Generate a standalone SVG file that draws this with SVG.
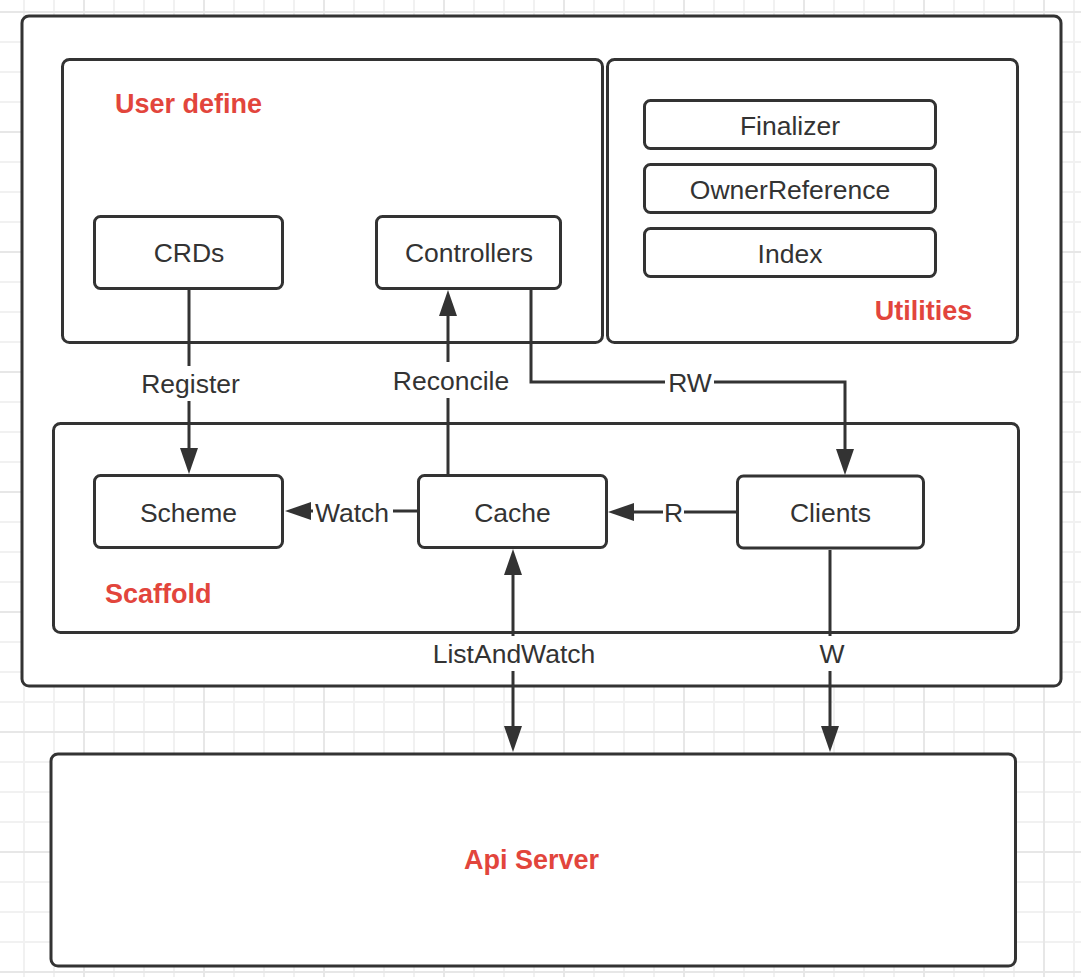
<svg xmlns="http://www.w3.org/2000/svg" width="1081" height="977" viewBox="0 0 1081 977">
  <defs>
    <pattern id="grid" patternUnits="userSpaceOnUse" x="-37" y="11" width="120" height="120">
      <rect x="0" y="0" width="120" height="120" fill="#ffffff"/>
      <rect x="30" y="0" width="2" height="120" fill="#f1f1f1"/>
      <rect x="60" y="0" width="2" height="120" fill="#f1f1f1"/>
      <rect x="90" y="0" width="2" height="120" fill="#f1f1f1"/>
      <rect x="0" y="30" width="120" height="2" fill="#f1f1f1"/>
      <rect x="0" y="60" width="120" height="2" fill="#f1f1f1"/>
      <rect x="0" y="90" width="120" height="2" fill="#f1f1f1"/>
      <rect x="0" y="0" width="2" height="120" fill="#e7e7e7"/>
      <rect x="0" y="0" width="120" height="2" fill="#e7e7e7"/>
    </pattern>
    <marker id="arrow" markerUnits="userSpaceOnUse" markerWidth="26" markerHeight="18" refX="0" refY="9" orient="auto-start-reverse" overflow="visible">
      <path d="M0,0 L26,9 L0,18 Z" fill="#333333"/>
    </marker>
  </defs>
  <style>
    .frame { fill: #ffffff; stroke: #333333; stroke-width: 3; }
    .node { fill: #ffffff; stroke: #333333; stroke-width: 3; }
    .txt { font-family: "Liberation Sans", Arial, sans-serif; font-size: 26.5px; fill: #333333; text-anchor: middle; }
    .title { font-family: "Liberation Sans", Arial, sans-serif; font-size: 27px; font-weight: bold; fill: #e2453c; }
    .conn { fill: none; stroke: #333333; stroke-width: 3; }
    .lblbg { fill: #ffffff; }
  </style>

  <rect x="0" y="0" width="1081" height="977" fill="url(#grid)"/>

  <g id="outer">
    <rect class="frame" x="22" y="16" width="1039" height="670" rx="7"/>
  </g>

  <g id="user-define">
    <rect class="frame" x="62.5" y="59.5" width="540" height="283" rx="7"/>
    <text class="title" x="115" y="113">User define</text>
  </g>

  <g id="utilities">
    <rect class="frame" x="607.5" y="59.5" width="410" height="283" rx="7"/>
    <text class="title" x="923.5" y="320" text-anchor="middle">Utilities</text>
  </g>

  <g id="finalizer">
    <rect class="node" x="644.5" y="100.5" width="291" height="48" rx="6"/>
    <text class="txt" x="790" y="135">Finalizer</text>
  </g>
  <g id="ownerreference">
    <rect class="node" x="644.5" y="164.5" width="291" height="48" rx="6"/>
    <text class="txt" x="790" y="199">OwnerReference</text>
  </g>
  <g id="index">
    <rect class="node" x="644.5" y="228.5" width="291" height="48" rx="6"/>
    <text class="txt" x="790" y="263">Index</text>
  </g>

  <g id="crds">
    <rect class="node" x="94.5" y="216.5" width="188" height="72" rx="6"/>
    <text class="txt" x="189" y="262">CRDs</text>
  </g>
  <g id="controllers">
    <rect class="node" x="376.5" y="216.5" width="184" height="72" rx="6"/>
    <text class="txt" x="469" y="262">Controllers</text>
  </g>

  <g id="scaffold">
    <rect class="frame" x="53.5" y="423.5" width="965" height="209" rx="7"/>
    <text class="title" x="105" y="603">Scaffold</text>
  </g>

  <g id="scheme">
    <rect class="node" x="94.5" y="475.5" width="188" height="72" rx="6"/>
    <text class="txt" x="188.5" y="522">Scheme</text>
  </g>
  <g id="cache">
    <rect class="node" x="418.5" y="475.5" width="188" height="72" rx="6"/>
    <text class="txt" x="512.5" y="522">Cache</text>
  </g>
  <g id="clients">
    <rect class="node" x="737.5" y="476" width="186" height="72" rx="6"/>
    <text class="txt" x="830.5" y="522">Clients</text>
  </g>

  <g id="api-server">
    <rect class="frame" x="51" y="754" width="964.5" height="212" rx="7"/>
    <text class="title" x="531.5" y="869" text-anchor="middle">Api Server</text>
  </g>

  <g id="connectors">
    <path class="conn" d="M189,290 V448" marker-end="url(#arrow)"/>
    <rect class="lblbg" x="139" y="366" width="102" height="35"/>
    <text class="txt" x="190.5" y="393">Register</text>

    <path class="conn" d="M448,474 V316" marker-end="url(#arrow)"/>
    <rect class="lblbg" x="391" y="362" width="120" height="36"/>
    <text class="txt" x="451" y="390">Reconcile</text>

    <path class="conn" d="M531,290 V382 H845 V449" marker-end="url(#arrow)"/>
    <rect class="lblbg" x="665" y="368" width="49" height="30"/>
    <text class="txt" x="690" y="392">RW</text>

    <path class="conn" d="M418,511 H311" marker-end="url(#arrow)"/>
    <rect class="lblbg" x="313" y="496" width="80" height="32"/>
    <text class="txt" x="352" y="522">Watch</text>

    <path class="conn" d="M736,512 H634" marker-end="url(#arrow)"/>
    <rect class="lblbg" x="663" y="497" width="21" height="30"/>
    <text class="txt" x="673.5" y="522">R</text>

    <path class="conn" d="M513,575 V726" marker-start="url(#arrow)" marker-end="url(#arrow)"/>
    <rect class="lblbg" x="427" y="636" width="175" height="35"/>
    <text class="txt" x="514" y="663">ListAndWatch</text>

    <path class="conn" d="M830,550 V726" marker-end="url(#arrow)"/>
    <rect class="lblbg" x="816" y="636" width="31" height="35"/>
    <text class="txt" x="832" y="663">W</text>
  </g>
</svg>
